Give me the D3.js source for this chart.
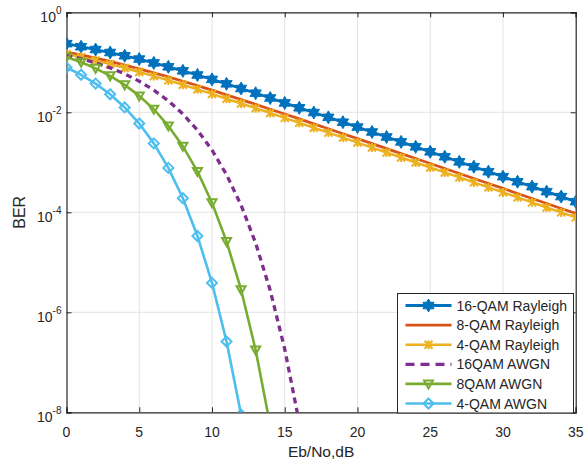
<!DOCTYPE html>
<html>
<head>
<meta charset="utf-8">
<script src="https://cdn.jsdelivr.net/npm/d3@7"></script>
<style>
  body { margin: 0; background: #fff; }
  svg { display: block; }
</style>
</head>
<body>
<div id="berViz"></div>
<script>

// Eb/No points (dB)
var ebno = [0,1,2,3,4,5,6,7,8,9,10,11,12,13,14,15,16,17,18,19,20,21,22,23,24,25,26,27,28,29,30,31,32,33,34,35]

// BER values
var qam16Rayleigh = [0.236,0.205,0.180,0.157,0.135,0.116,0.0973,0.0811,0.0674,0.0557,0.0455,0.0371,0.0299,0.0241,0.0193,0.0154,
	0.0123,0.0099,0.00793,0.00634,0.00506,0.00404,0.00321,0.00256,0.00204,0.00162,0.00129,0.00102,8.16e-4,6.49e-4,5.16e-4,4.09e-4,3.26e-4,2.59e-4,2.06e-4,1.63e-4]
var qam8Rayleigh = [0.160,0.140,0.121,0.104,0.0880,0.0740,0.0617,0.0510,0.0418,0.0341,0.0277,0.0223,0.0179,0.0144,0.0115,0.00923,
	0.00737,0.00587,0.00468,0.00373,0.00297,0.00236,0.00188,0.00149,0.00119,9.45e-4,7.51e-4,5.97e-4,4.75e-4,3.77e-4,3.00e-4,2.38e-4,1.89e-4,1.50e-4,1.19e-4,9.5e-5]
var qam4Rayleigh = [0.146,0.127,0.109,0.0919,0.0771,0.0642,0.0530,0.0435,0.0355,0.0288,0.0233,0.0187,0.0150,0.0121,0.00966,0.00773,
	0.00616,0.00491,0.00392,0.00312,0.00248,0.00197,0.00157,0.00125,9.92e-4,7.89e-4,6.27e-4,4.99e-4,3.96e-4,3.15e-4,2.50e-4,1.99e-4,1.58e-4,1.25e-4,9.95e-5,7.91e-5]
var qam16Awgn = [0.139,0.118,0.0976,0.0775,0.0586,0.0419,0.0278,0.0170,0.00924,0.00439,0.00176,5.64e-4,1.39e-4,2.43e-5,2.76e-6,1.84e-7,6.2e-9]
var qam8Awgn = [0.127,0.100,0.0756,0.0536,0.0354,0.0213,0.0115,0.00534,0.00209,6.57e-4,1.55e-4,2.62e-5,2.83e-6,1.76e-7,5.5e-9]
var qam4Awgn = [0.0786,0.0563,0.0375,0.0229,0.0125,0.00595,0.00239,7.73e-4,1.91e-4,3.36e-5,3.87e-6,2.61e-7,9.0e-9]

var seriesNames = ["16-QAM Rayleigh", "8-QAM Rayleigh", "4-QAM Rayleigh", "16QAM AWGN", "8QAM AWGN", "4-QAM AWGN"]
var xTicks = [0,5,10,15,20,25,30,35]
var yTickExp = [0,-2,-4,-6,-8]

function initialize() {

	var width = 584
		height = 464

	var left = 66.5, right = 575.7, top = 12.3, bottom = 412.3

	var svg = d3.select("#berViz")
		.append("svg")
		.attr("width", width)
		.attr("height", height)
		.style("font-family", "'Liberation Sans', Arial, sans-serif")

	var x = d3.scaleLinear().domain([0, 35]).range([left, right])
	var y = d3.scaleLog().domain([1e-8, 1]).range([bottom, top])

	var axisColor = "#262626"

	// grid
	svg.append("g").selectAll("line")
		.data(xTicks.slice(1, -1))
		.enter().append("line")
		.attr("x1", d => x(d)).attr("x2", d => x(d))
		.attr("y1", top).attr("y2", bottom)
		.attr("stroke", "#e3e3e3").attr("stroke-width", 1)
	svg.append("g").selectAll("line")
		.data(yTickExp.slice(1, -1))
		.enter().append("line")
		.attr("y1", d => y(Math.pow(10, d))).attr("y2", d => y(Math.pow(10, d)))
		.attr("x1", left).attr("x2", right)
		.attr("stroke", "#e3e3e3").attr("stroke-width", 1)

	// box + ticks through d3 axes
	var xb = d3.axisBottom(x).tickValues(xTicks).tickSize(-5).tickFormat("")
	var xt = d3.axisTop(x).tickValues(xTicks).tickSize(-5).tickFormat("")
	var yl = d3.axisLeft(y).tickValues(yTickExp.map(e => Math.pow(10, e))).tickSize(-5).tickFormat("")
	var yr = d3.axisRight(y).tickValues(yTickExp.map(e => Math.pow(10, e))).tickSize(-5).tickFormat("")

	var axes = [
		svg.append("g").attr("transform", "translate(0," + bottom + ")").call(xb),
		svg.append("g").attr("transform", "translate(0," + top + ")").call(xt),
		svg.append("g").attr("transform", "translate(" + left + ",0)").call(yl),
		svg.append("g").attr("transform", "translate(" + right + ",0)").call(yr)
	]
	axes.forEach(function(g) {
		g.selectAll("path").attr("stroke", axisColor).attr("stroke-width", 1.2)
		g.selectAll("line").attr("stroke", axisColor)
	})

	// tick labels
	svg.append("g").selectAll("text")
		.data(xTicks)
		.enter().append("text")
		.attr("x", d => x(d))
		.attr("y", bottom + 25)
		.attr("text-anchor", "middle")
		.attr("font-size", 14)
		.attr("fill", axisColor)
		.text(d => d)

	var yLab = svg.append("g").selectAll("text")
		.data(yTickExp)
		.enter().append("text")
		.attr("x", left - 5)
		.attr("y", d => y(Math.pow(10, d)) + 10)
		.attr("text-anchor", "end")
		.attr("font-size", 14)
		.attr("fill", axisColor)
	yLab.append("tspan").text("10")
	yLab.append("tspan").attr("dy", -8).attr("font-size", 10).text(d => d)

	svg.append("text")
		.attr("x", (left + right) / 2)
		.attr("y", 457)
		.attr("text-anchor", "middle")
		.attr("font-size", 15.5)
		.attr("fill", axisColor)
		.text("Eb/No,dB")

	svg.append("text")
		.attr("transform", "translate(25," + (top + bottom) / 2 + ") rotate(-90)")
		.attr("text-anchor", "middle")
		.attr("font-size", 16)
		.attr("fill", axisColor)
		.text("BER")

	// curves
	svg.append("clipPath").attr("id", "plotClip")
		.append("rect").attr("x", left).attr("y", top).attr("width", right - left).attr("height", bottom - top)

	var hexagram = function(r) {
		var pts = []
		for (var i = 0; i < 12; i++) {
			var a = Math.PI / 6 * i - Math.PI / 2
			var rr = i % 2 == 0 ? r : r / Math.sqrt(3)
			pts.push([rr * Math.cos(a), rr * Math.sin(a)])
		}
		return "M" + pts.join("L") + "Z"
	}
	var markers = {
		hex: { d: hexagram(6.5), fill: true },
		x: { d: "M-4,-4L4,4M-4,4L4,-4M0,-4.5L0,4.5", fill: false },
		tri: { d: "M-4.5,-3.5L4.5,-3.5L0,4.5Z", fill: false },
		dia: { d: "M0,-5L5,0L0,5L-5,0Z", fill: false },
		none: null
	}

	var series = [
		{ name: seriesNames[0], values: qam16Rayleigh, color: "#0072BD", width: 2.8, dash: null, marker: "hex" },
		{ name: seriesNames[1], values: qam8Rayleigh, color: "#D95319", width: 2.8, dash: null, marker: "none" },
		{ name: seriesNames[2], values: qam4Rayleigh, color: "#EDB120", width: 2.5, dash: null, marker: "x" },
		{ name: seriesNames[3], values: qam16Awgn, color: "#7E2F8E", width: 3.3, dash: "6,4.5", marker: "none" },
		{ name: seriesNames[4], values: qam8Awgn, color: "#77AC30", width: 2.6, dash: null, marker: "tri" },
		{ name: seriesNames[5], values: qam4Awgn, color: "#4DBEEE", width: 2.6, dash: null, marker: "dia" }
	]

	var line = d3.line()
		.x(function(d, i) { return x(ebno[i]) })
		.y(function(d) { return y(d) })

	var plot = svg.append("g").attr("clip-path", "url(#plotClip)")

	series.forEach(function(s) {
		plot.append("path")
			.attr("d", line(s.values))
			.attr("fill", "none")
			.attr("stroke", s.color)
			.attr("stroke-width", s.width)
			.attr("stroke-dasharray", s.dash)
			.attr("stroke-linejoin", "round")
		var m = markers[s.marker]
		if (m) {
			plot.selectAll(null)
				.data(s.values)
				.enter().append("path")
				.attr("transform", (d, i) => "translate(" + x(ebno[i]) + "," + y(d) + ")")
				.attr("d", m.d)
				.attr("fill", m.fill ? s.color : "none")
				.attr("stroke", s.color)
				.attr("stroke-width", m.fill ? 1 : 2)
		}
	})

	// legend
	var lx = 397.5, ly = 293.5, lw = 176, lh = 119.5
	var legend = svg.append("g")
	legend.append("rect")
		.attr("x", lx).attr("y", ly).attr("width", lw).attr("height", lh)
		.attr("fill", "#fff").attr("stroke", axisColor).attr("stroke-width", 1)

	var rows = legend.selectAll("g.row")
		.data(series)
		.enter().append("g")
		.attr("transform", (d, i) => "translate(" + lx + "," + (ly + 12 + i * 19.6) + ")")

	rows.append("line")
		.attr("x1", 8).attr("x2", 54)
		.attr("stroke", d => d.color)
		.attr("stroke-width", d => d.width)
		.attr("stroke-dasharray", d => d.dash ? "9,6" : null)
	rows.filter(d => markers[d.marker])
		.append("path")
		.attr("transform", "translate(31,0)")
		.attr("d", d => markers[d.marker].d)
		.attr("fill", d => markers[d.marker].fill ? d.color : "none")
		.attr("stroke", d => d.color)
		.attr("stroke-width", d => markers[d.marker].fill ? 1 : 2)
	rows.append("text")
		.attr("x", 59)
		.attr("y", 5)
		.attr("font-size", 14)
		.attr("fill", axisColor)
		.text(d => d.name)
}

initialize()
</script>
</body>
</html>
